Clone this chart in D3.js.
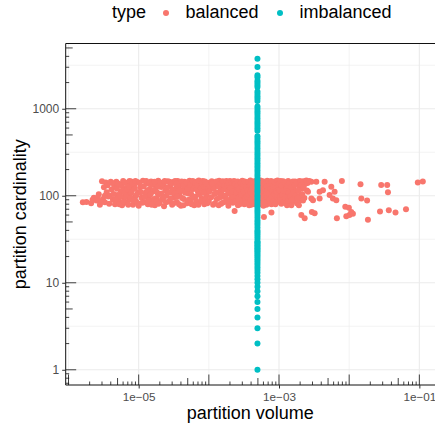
<!DOCTYPE html>
<html>
<head>
<meta charset="utf-8">
<script src="https://cdn.jsdelivr.net/npm/d3@7.9.0/dist/d3.min.js"></script>
<style>
  body { margin: 0; background: #fff; }
  svg { display: block; font-family: "Liberation Sans", Arial, sans-serif; }
</style>
</head>
<body>
<svg id="chart" width="435" height="427"></svg>
<script>
// legend entries
const types = ['balanced', 'imbalanced'];
const typeColors = ['#F8766D', '#00BFC4'];

// balanced partitions: [volume, cardinality]
const balanced = [
  [1.6e-6, 84], [1.8e-6, 85], [2.1e-6, 82], [2.3e-6, 95], [2.5e-6, 88], [2.7e-6, 104], [2.8e-6, 79],
  [3.0e-6, 147], [3.1e-6, 92], [3.3e-6, 84], [3.4e-6, 142], [3.5e-6, 110], [3.7e-6, 98], [3.8e-6, 81],
  [4.0e-6, 145], [4.1e-6, 118], [4.3e-6, 90], [4.5e-6, 127], [4.6e-6, 80], [4.8e-6, 145], [5.0e-6, 102],
  [5.2e-6, 87], [5.4e-6, 135], [5.6e-6, 112], [5.8e-6, 78], [6.0e-6, 148], [6.2e-6, 95], [6.5e-6, 123],
  [6.7e-6, 83], [7.0e-6, 140], [7.2e-6, 105], [7.5e-6, 90], [7.8e-6, 146], [8.0e-6, 117], [8.3e-6, 79],
  [8.6e-6, 131], [8.9e-6, 97], [9.2e-6, 86], [9.6e-6, 144], [9.8e-6, 110],
  [2.2e-6, 90], [2.6e-6, 95], [2.9e-6, 85], [3.2e-6, 125], [3.3e-6, 100], [3.6e-6, 132], [3.9e-6, 100],
  [4.2e-6, 140], [4.4e-6, 105], [4.7e-6, 92], [4.9e-6, 120], [5.1e-6, 138], [5.3e-6, 80], [5.5e-6, 98],
  [5.7e-6, 130], [5.9e-6, 115], [6.1e-6, 86], [6.3e-6, 108], [6.4e-6, 142], [6.6e-6, 97], [6.9e-6, 118],
  [7.1e-6, 79], [7.3e-6, 128], [7.4e-6, 148], [7.7e-6, 95], [7.9e-6, 108], [8.2e-6, 138], [8.5e-6, 88],
  [8.8e-6, 120], [9.0e-6, 148], [9.4e-6, 103], [9.7e-6, 82],
  [1.0e-5, 77], [1.05e-5, 125], [1.1e-5, 95], [1.15e-5, 149], [1.2e-5, 84], [1.25e-5, 108], [1.3e-5, 138],
  [1.35e-5, 80], [1.4e-5, 99], [1.45e-5, 120], [1.5e-5, 146], [1.55e-5, 88], [1.6e-5, 112], [1.7e-5, 78],
  [1.75e-5, 133], [1.8e-5, 94], [1.9e-5, 149], [1.95e-5, 104], [2.0e-5, 83], [2.1e-5, 126], [2.15e-5, 91],
  [2.2e-5, 142], [2.3e-5, 76], [2.4e-5, 115], [2.5e-5, 100], [2.6e-5, 147], [2.7e-5, 86], [2.8e-5, 130],
  [2.9e-5, 109], [3.0e-5, 79], [3.1e-5, 144], [3.2e-5, 96], [3.4e-5, 121], [3.5e-5, 85], [3.6e-5, 148],
  [3.8e-5, 103], [3.9e-5, 137], [4.0e-5, 77], [4.2e-5, 114], [4.4e-5, 92], [4.5e-5, 145], [4.7e-5, 128],
  [4.9e-5, 82], [5.1e-5, 106], [5.3e-5, 149], [5.5e-5, 89], [5.8e-5, 119], [6.0e-5, 139], [6.2e-5, 78],
  [6.5e-5, 98], [6.8e-5, 146], [7.0e-5, 111], [7.3e-5, 84], [7.6e-5, 132], [7.9e-5, 93], [8.2e-5, 148],
  [8.6e-5, 80], [8.9e-5, 116], [9.3e-5, 101], [9.7e-5, 141],
  [1.02e-5, 140], [1.08e-5, 110], [1.12e-5, 83], [1.18e-5, 128], [1.22e-5, 97], [1.28e-5, 148], [1.33e-5, 116],
  [1.38e-5, 88], [1.42e-5, 140], [1.48e-5, 104], [1.53e-5, 79], [1.58e-5, 135], [1.65e-5, 92], [1.68e-5, 145],
  [1.72e-5, 118], [1.78e-5, 86], [1.85e-5, 108], [1.88e-5, 127], [1.92e-5, 81], [2.05e-5, 140], [2.12e-5, 106],
  [2.25e-5, 95], [2.28e-5, 133], [2.35e-5, 148], [2.45e-5, 84], [2.55e-5, 124], [2.65e-5, 110], [2.75e-5, 145],
  [2.85e-5, 93], [2.95e-5, 138], [3.05e-5, 118], [3.15e-5, 82], [3.3e-5, 148], [3.3e-5, 106], [3.45e-5, 137],
  [3.55e-5, 98], [3.7e-5, 128], [3.75e-5, 80], [3.85e-5, 115], [4.1e-5, 146], [4.15e-5, 94], [4.3e-5, 131],
  [4.35e-5, 78], [4.6e-5, 108], [4.8e-5, 142], [5.0e-5, 120], [5.2e-5, 90], [5.4e-5, 133], [5.6e-5, 104],
  [5.7e-5, 80], [5.9e-5, 148], [6.1e-5, 96], [6.3e-5, 124], [6.4e-5, 140], [6.6e-5, 86], [6.7e-5, 118],
  [6.9e-5, 132], [7.1e-5, 79], [7.2e-5, 150], [7.4e-5, 104], [7.7e-5, 122], [7.8e-5, 88], [8.0e-5, 138],
  [8.4e-5, 108], [8.5e-5, 128], [8.8e-5, 146], [9.0e-5, 91], [9.1e-5, 133], [9.5e-5, 82], [9.8e-5, 120],
  [1.0e-4, 87], [1.05e-4, 124], [1.1e-4, 147], [1.15e-4, 79], [1.2e-4, 105], [1.25e-4, 135], [1.3e-4, 92],
  [1.4e-4, 149], [1.45e-4, 113], [1.5e-4, 81], [1.55e-4, 127], [1.6e-4, 98], [1.7e-4, 143], [1.75e-4, 86],
  [1.8e-4, 118], [1.9e-4, 77], [1.95e-4, 107], [2.0e-4, 148], [2.1e-4, 94], [2.15e-4, 131], [2.2e-4, 83],
  [2.3e-4, 122], [2.33e-4, 67], [2.4e-4, 145], [2.5e-4, 100], [2.6e-4, 78], [2.7e-4, 137], [2.8e-4, 89],
  [2.9e-4, 115], [3.0e-4, 149], [3.1e-4, 96], [3.2e-4, 80], [3.3e-4, 128], [3.4e-4, 108], [3.5e-4, 142],
  [3.6e-4, 85], [3.7e-4, 120], [3.8e-4, 97], [3.9e-4, 150], [4.0e-4, 79], [4.1e-4, 134], [4.2e-4, 103],
  [4.3e-4, 88], [4.4e-4, 146], [4.5e-4, 117], [4.6e-4, 82], [4.7e-4, 125], [4.8e-4, 93], [5.0e-4, 148],
  [5.1e-4, 110], [5.3e-4, 84], [5.4e-4, 139], [5.6e-4, 99], [5.8e-4, 121], [6.0e-4, 77], [6.1e-4, 57],
  [6.2e-4, 144], [6.4e-4, 90], [6.6e-4, 112], [6.8e-4, 149], [7.0e-4, 86], [7.3e-4, 130], [7.5e-4, 102],
  [7.8e-4, 64], [7.8e-4, 80], [8.1e-4, 141], [8.4e-4, 118], [8.7e-4, 92], [9.0e-4, 147], [9.3e-4, 84],
  [9.6e-4, 126], [9.9e-4, 106],
  [1.02e-4, 112], [1.08e-4, 96], [1.12e-4, 138], [1.18e-4, 120], [1.22e-4, 82], [1.28e-4, 146], [1.33e-4, 108],
  [1.36e-4, 128], [1.38e-4, 78], [1.42e-4, 95], [1.48e-4, 138], [1.52e-4, 104], [1.58e-4, 147], [1.62e-4, 84],
  [1.65e-4, 118], [1.68e-4, 130], [1.72e-4, 100], [1.78e-4, 148], [1.82e-4, 90], [1.85e-4, 134], [1.88e-4, 112],
  [1.92e-4, 140], [1.98e-4, 84], [2.05e-4, 122], [2.08e-4, 102], [2.12e-4, 142], [2.18e-4, 112], [2.25e-4, 96],
  [2.28e-4, 148], [2.35e-4, 136], [2.38e-4, 86], [2.45e-4, 110], [2.55e-4, 130], [2.58e-4, 146], [2.65e-4, 92],
  [2.68e-4, 118], [2.75e-4, 80], [2.85e-4, 140], [2.88e-4, 104], [2.95e-4, 126], [3.05e-4, 86], [3.08e-4, 136],
  [3.15e-4, 112], [3.25e-4, 146], [3.28e-4, 94], [3.35e-4, 82], [3.45e-4, 126], [3.48e-4, 98], [3.55e-4, 115],
  [3.65e-4, 144], [3.68e-4, 104], [3.75e-4, 78], [3.85e-4, 132], [3.88e-4, 110], [3.95e-4, 90], [4.05e-4, 118],
  [4.08e-4, 146], [4.15e-4, 84], [4.25e-4, 128], [4.28e-4, 140], [4.35e-4, 100], [4.38e-4, 112], [4.45e-4, 80],
  [4.55e-4, 136], [4.58e-4, 96], [4.65e-4, 148], [4.68e-4, 108], [4.75e-4, 86], [4.85e-4, 132], [4.88e-4, 118],
  [4.95e-4, 100], [5.05e-4, 128], [5.08e-4, 82], [5.15e-4, 143], [5.2e-4, 96], [5.25e-4, 118], [5.35e-4, 104],
  [5.45e-4, 150], [5.5e-4, 88], [5.55e-4, 126], [5.65e-4, 80], [5.7e-4, 136], [5.75e-4, 108], [5.85e-4, 94],
  [5.9e-4, 147], [5.95e-4, 114], [6.05e-4, 130], [6.15e-4, 100], [6.25e-4, 84], [6.3e-4, 121], [6.45e-4, 138],
  [6.5e-4, 104], [6.6e-4, 79], [6.7e-4, 128], [6.75e-4, 96], [6.9e-4, 116], [7.05e-4, 145], [7.1e-4, 106],
  [7.2e-4, 90], [7.4e-4, 138], [7.45e-4, 82], [7.6e-4, 120], [7.7e-4, 148], [7.9e-4, 98], [8.0e-4, 112],
  [8.2e-4, 128], [8.3e-4, 86], [8.5e-4, 145], [8.6e-4, 104], [8.8e-4, 132], [8.9e-4, 80], [9.1e-4, 112],
  [9.2e-4, 140], [9.4e-4, 96], [9.5e-4, 150], [9.7e-4, 88], [9.8e-4, 136],
  [1.02e-3, 139], [1.05e-3, 98], [1.08e-3, 81], [1.1e-3, 121], [1.15e-3, 147], [1.18e-3, 90], [1.2e-3, 108],
  [1.25e-3, 135], [1.3e-3, 78], [1.32e-3, 100], [1.35e-3, 148], [1.4e-3, 119], [1.45e-3, 87], [1.5e-3, 141],
  [1.5e-3, 78], [1.55e-3, 104], [1.6e-3, 125], [1.63e-3, 87], [1.65e-3, 94], [1.7e-3, 146], [1.75e-3, 113],
  [1.8e-3, 82], [1.9e-3, 131], [1.95e-3, 148], [1.97e-3, 89], [2.0e-3, 101], [2.08e-3, 60], [2.1e-3, 120],
  [2.2e-3, 147], [2.3e-3, 94], [2.32e-3, 55], [2.4e-3, 138], [2.5e-3, 115], [2.59e-3, 111], [2.6e-3, 146],
  [1.0e-3, 116], [1.03e-3, 88], [1.06e-3, 148], [1.09e-3, 130], [1.12e-3, 102], [1.14e-3, 84], [1.16e-3, 114],
  [1.22e-3, 142], [1.24e-3, 95], [1.27e-3, 120], [1.3e-3, 130], [1.34e-3, 88], [1.38e-3, 108], [1.42e-3, 140],
  [1.44e-3, 98], [1.48e-3, 125], [1.52e-3, 90], [1.58e-3, 146], [1.6e-3, 110], [1.68e-3, 134], [1.72e-3, 100],
  [1.78e-3, 140], [1.85e-3, 95], [1.88e-3, 115], [1.92e-3, 78], [2.02e-3, 146], [2.05e-3, 132], [2.15e-3, 104],
  [2.2e-3, 88], [2.25e-3, 126], [2.35e-3, 146], [2.45e-3, 150], [2.55e-3, 140], [2.7e-3, 148],
  [2.89e-3, 145], [2.89e-3, 93], [2.94e-3, 65], [3.05e-3, 89], [3.22e-3, 63], [3.4e-3, 145], [3.79e-3, 111],
  [3.79e-3, 93], [4.23e-3, 116], [4.47e-3, 145], [5.26e-3, 102], [5.56e-3, 127], [5.86e-3, 93], [6.2e-3, 111],
  [6.55e-3, 89], [6.68e-3, 55], [7.87e-3, 148], [8.8e-3, 75], [9.1e-3, 58], [9.9e-3, 73], [1.01e-2, 60],
  [1.07e-2, 65], [1.13e-2, 62], [1.45e-2, 136], [1.49e-2, 93], [1.8e-2, 88], [1.85e-2, 53], [2.75e-2, 66],
  [2.86e-2, 133], [3.48e-2, 133], [3.57e-2, 110], [3.67e-2, 68], [4.57e-2, 64], [6.45e-2, 70],
  [9.5e-2, 142], [1.12e-1, 146]
];

// imbalanced partitions all share one volume
const imbalancedVolume = 4.93e-4;
const imbalancedCardinality = [
  1, 2, 3, 4, 5, 6, 7, 8, 9, 10, 11, 12, 13, 14, 15, 16, 17, 18, 19, 20, 21, 22, 23, 24, 25, 26, 27, 28, 29, 30,
  32, 34, 36, 38, 40, 43, 46, 49, 52, 56, 60, 64, 68, 73, 78, 83, 89, 95, 101, 108, 115, 123, 131, 140, 150,
  160, 171, 183, 195, 208, 222, 237, 253, 270, 288, 307, 328, 350, 373, 398, 424, 452, 482, 560, 597, 637,
  680, 725, 773, 825, 880, 938, 1000, 1065, 1230, 1310, 1395, 1485, 1580, 1780, 1880, 1990, 2100, 2300,
  2430, 3010, 3760
];

const xTicks = [1e-5, 1e-3, 1e-1];
const xMinor = [1e-6, 1e-4, 1e-2];
const yTicks = [1, 10, 100, 1000];
const yMinor = [Math.sqrt(10), Math.sqrt(1000), Math.sqrt(1e5), Math.sqrt(1e7)];

const svg = d3.select('#chart');
const mLeft = 65.7, mRight = 435, mTop = 43.5, mBottom = 385;

let x = d3.scaleLog().domain([Math.pow(10, -6.04), Math.pow(10, -0.777)]).range([mLeft, mRight]);
let y = d3.scaleLog().domain([Math.pow(10, -0.175), Math.pow(10, 3.75)]).range([mBottom, mTop]);

svg.append('defs').append('clipPath').attr('id', 'panel')
  .append('rect').attr('x', mLeft).attr('y', mTop).attr('width', mRight - mLeft).attr('height', mBottom - mTop);

let grid = svg.append('g').attr('clip-path', 'url(#panel)');
// minor grid
grid.selectAll('.xminor').data(xMinor).join('line')
  .attr('x1', d => x(d)).attr('x2', d => x(d)).attr('y1', mTop).attr('y2', mBottom)
  .attr('stroke', '#EBEBEB').attr('stroke-width', 0.6);
grid.selectAll('.yminor').data(yMinor).join('line')
  .attr('y1', d => y(d)).attr('y2', d => y(d)).attr('x1', mLeft).attr('x2', mRight)
  .attr('stroke', '#EBEBEB').attr('stroke-width', 0.6);
// major grid
grid.selectAll('.xmajor').data(xTicks).join('line')
  .attr('x1', d => x(d)).attr('x2', d => x(d)).attr('y1', mTop).attr('y2', mBottom)
  .attr('stroke', '#EBEBEB').attr('stroke-width', 1.1);
grid.selectAll('.ymajor').data(yTicks).join('line')
  .attr('y1', d => y(d)).attr('y2', d => y(d)).attr('x1', mLeft).attr('x2', mRight)
  .attr('stroke', '#EBEBEB').attr('stroke-width', 1.1);

// points
let pts = svg.append('g').attr('clip-path', 'url(#panel)');
pts.selectAll('.bal').data(balanced).join('circle')
  .attr('cx', d => x(d[0])).attr('cy', d => y(d[1])).attr('r', 3)
  .attr('fill', typeColors[0]);
pts.selectAll('.imb').data(imbalancedCardinality).join('circle')
  .attr('cx', x(imbalancedVolume)).attr('cy', d => y(d)).attr('r', 3)
  .attr('fill', typeColors[1]);

// log ticks inside the panel (annotation_logticks style)
let logTicks = [];
for (let e = -7; e <= 4; e++) {
  for (let k = 1; k <= 9; k++) logTicks.push({ v: k * Math.pow(10, e), len: k === 1 ? 10.5 : k === 5 ? 7 : 3.5 });
}
let lt = svg.append('g').attr('clip-path', 'url(#panel)').attr('stroke', '#111').attr('stroke-width', 0.8);
lt.selectAll('.bt').data(logTicks.filter(d => d.v >= x.domain()[0] && d.v <= x.domain()[1])).join('line')
  .attr('x1', d => x(d.v)).attr('x2', d => x(d.v)).attr('y1', mBottom).attr('y2', d => mBottom - d.len);
lt.selectAll('.lt').data(logTicks.filter(d => d.v >= y.domain()[0] && d.v <= y.domain()[1])).join('line')
  .attr('y1', d => y(d.v)).attr('y2', d => y(d.v)).attr('x1', mLeft).attr('x2', d => mLeft + d.len);

// frame: top, left, bottom
let frame = svg.append('g').attr('stroke', '#111').attr('stroke-width', 1);
frame.append('line').attr('x1', mLeft).attr('x2', mRight).attr('y1', mTop).attr('y2', mTop);
frame.append('line').attr('x1', mLeft).attr('x2', mLeft).attr('y1', mTop).attr('y2', mBottom);
frame.append('line').attr('x1', mLeft).attr('x2', mRight).attr('y1', mBottom).attr('y2', mBottom);

// ggplot-like "1e-05" labels
function sciLabel(d) {
  let e = Math.round(Math.log10(d));
  return '1e' + (e < 0 ? '\u2212' : '+') + String(Math.abs(e)).padStart(2, '0');
}

// axes (outward ticks + labels)
let xAxis = svg.append('g').attr('transform', `translate(0,${mBottom})`)
  .call(d3.axisBottom(x).tickValues(xTicks).tickSize(3.5).tickPadding(4).tickFormat(sciLabel));
xAxis.select('.domain').remove();
xAxis.selectAll('line').attr('stroke', '#333');
xAxis.selectAll('text').attr('fill', '#4D4D4D').style('font-size', '11.7px').style('font-family', 'Liberation Sans, Arial, sans-serif');

let yAxis = svg.append('g').attr('transform', `translate(${mLeft},0)`)
  .call(d3.axisLeft(y).tickValues(yTicks).tickSize(3.5).tickPadding(3).tickFormat(d3.format('d')));
yAxis.select('.domain').remove();
yAxis.selectAll('line').attr('stroke', '#333');
yAxis.selectAll('text').attr('fill', '#4D4D4D').style('font-size', '12px').style('font-family', 'Liberation Sans, Arial, sans-serif');

// axis titles
svg.append('text').attr('x', (mLeft + mRight) / 2).attr('y', 419).attr('text-anchor', 'middle')
  .style('font-size', '18px').attr('fill', '#000').text('partition volume');
svg.append('text').attr('transform', `translate(26,${(mTop + mBottom) / 2}) rotate(-90)`)
  .attr('text-anchor', 'middle').style('font-size', '18px').attr('fill', '#000').text('partition cardinality');

// legend on top
let legend = svg.append('g');
legend.append('text').attr('x', 112).attr('y', 18).style('font-size', '18px').text('type');
let keyX = [166, 280];
types.forEach((t, i) => {
  legend.append('circle').attr('cx', keyX[i]).attr('cy', 13).attr('r', 3).attr('fill', typeColors[i]);
  legend.append('text').attr('x', keyX[i] + 19.5).attr('y', 18).style('font-size', '18px').text(t);
});
</script>
</body>
</html>
